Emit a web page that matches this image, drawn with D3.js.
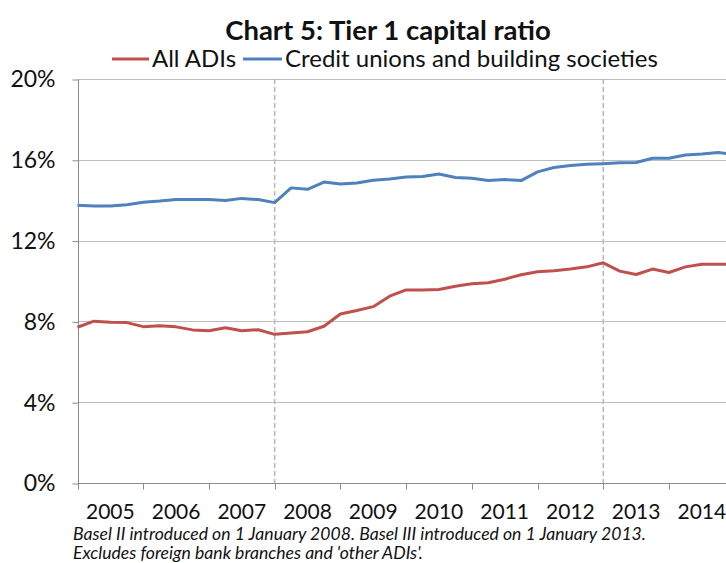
<!DOCTYPE html>
<html>
<head>
<meta charset="utf-8">
<script src="https://cdn.jsdelivr.net/npm/d3@7"></script>
<style>
  html, body { margin: 0; padding: 0; background: #fff; }
  svg { display: block; }
  text { font-family: Lato, "Open Sans", sans-serif; fill: #111; }
</style>
</head>
<body>
<svg id="chart" width="726" height="563"></svg>
<script>
// Tier 1 capital ratio, quarterly, per cent (first point = March 2005 quarter)
const quarters = d3.range(41);
const allADIs = [
  7.71, 8.01, 7.96, 7.94, 7.74, 7.79, 7.73, 7.58, 7.54, 7.69, 7.54, 7.59,
  7.36, 7.43, 7.49, 7.76, 8.37, 8.54, 8.73, 9.25, 9.56, 9.56, 9.58, 9.74,
  9.86, 9.91, 10.09, 10.31, 10.46, 10.51, 10.59, 10.70, 10.90, 10.49, 10.32, 10.59,
  10.42, 10.70, 10.83, 10.83, 10.83
];
const creditUnions = [
  13.75, 13.71, 13.71, 13.78, 13.90, 13.96, 14.04, 14.04, 14.04, 13.99, 14.09, 14.03,
  13.88, 14.61, 14.54, 14.90, 14.80, 14.85, 14.99, 15.05, 15.15, 15.17, 15.30, 15.12,
  15.09, 14.97, 15.02, 14.97, 15.40, 15.62, 15.72, 15.78, 15.81, 15.85, 15.87, 16.08,
  16.08, 16.24, 16.29, 16.36, 16.26
];
const years = [2005, 2006, 2007, 2008, 2009, 2010, 2011, 2012, 2013, 2014];
const yTicks = [0, 4, 8, 12, 16, 20];
const regimeChanges = [12, 32]; // quarter index of 1 Jan 2008 and 1 Jan 2013
const seriesNames = ["All ADIs", "Credit unions and building societies"];
const seriesColors = ["#c0504d", "#4f81bd"];
const notes = [
  "Basel II introduced on 1 January 2008. Basel III introduced on 1 January 2013.",
  "Excludes foreign bank branches and 'other ADIs'."
];

const svg = d3.select("#chart");
const plotLeft = 78, plotTop = 79, plotBottom = 483;
const step = 16.43;

const x = d3.scaleLinear().domain([0, 40]).range([plotLeft - 0.5, plotLeft - 0.5 + 40 * step]);
const y = d3.scaleLinear().domain([0, 20]).range([plotBottom, plotTop]);
const plotRight = x(41);

// horizontal gridlines
svg.append("g")
  .selectAll("line")
  .data(yTicks.filter(d => d > 0))
  .join("line")
  .attr("x1", plotLeft).attr("x2", plotRight)
  .attr("y1", d => Math.round(y(d)) + 0.5).attr("y2", d => Math.round(y(d)) + 0.5)
  .attr("stroke", "#bdbdbd").attr("stroke-width", 1);

// dashed lines marking Basel II / III
svg.append("g")
  .selectAll("line")
  .data(regimeChanges)
  .join("line")
  .attr("x1", d => x(d)).attr("x2", d => x(d))
  .attr("y1", plotTop).attr("y2", plotBottom)
  .attr("stroke", "#b8b8b8").attr("stroke-width", 1.5)
  .attr("stroke-dasharray", "5,3");

// y axis
const yAxis = d3.axisLeft(y).tickValues(yTicks).tickSize(6).tickPadding(17)
  .tickFormat(d => d + "%");
const gy = svg.append("g").attr("transform", `translate(${plotLeft + 0.5},0.5)`).call(yAxis);
gy.select(".domain").attr("stroke", "#8c8c8c").attr("d", `M0,${plotTop}V${plotBottom}`);
gy.selectAll(".tick line").attr("stroke", "#8c8c8c");
gy.selectAll(".tick text")
  .attr("font-size", 23).attr("font-family", "Lato, sans-serif").attr("fill", "#111");

// x axis: ticks at year boundaries, labels centred within each year
const gx = svg.append("g").attr("transform", `translate(0,${plotBottom + 0.5})`);
gx.append("line").attr("x1", plotLeft).attr("x2", plotRight).attr("stroke", "#8c8c8c");
gx.selectAll(".yt")
  .data(years.map((d, i) => i * 4))
  .join("line").attr("class", "yt")
  .attr("x1", d => Math.round(x(d)) + 0.5).attr("x2", d => Math.round(x(d)) + 0.5)
  .attr("y1", 0).attr("y2", 6).attr("stroke", "#8c8c8c");
gx.selectAll(".yl")
  .data(years)
  .join("text").attr("class", "yl")
  .attr("x", (d, i) => x(i * 4 + 2)).attr("y", 35.5)
  .attr("text-anchor", "middle").attr("font-size", 21)
  .text(d => d);

// series lines
const line = d3.line().x((d, i) => x(quarters[i])).y(d => y(d));
[allADIs, creditUnions].forEach((s, k) => {
  svg.append("path").datum(s)
    .attr("d", line)
    .attr("fill", "none")
    .attr("stroke", seriesColors[k])
    .attr("stroke-width", 3)
    .attr("stroke-linejoin", "round");
});

// title
svg.append("text")
  .attr("x", 388).attr("y", 40)
  .attr("text-anchor", "middle")
  .attr("font-size", 27.5).attr("font-weight", 700)
  .text("Chart 5: Tier 1 capital ratio");

// legend
const legend = svg.append("g");
const legendItems = [{ x: 112, w: 37 }, { x: 243, w: 39 }];
legendItems.forEach((it, k) => {
  legend.append("line")
    .attr("x1", it.x).attr("x2", it.x + it.w)
    .attr("y1", 59).attr("y2", 59)
    .attr("stroke", seriesColors[k]).attr("stroke-width", 3);
  legend.append("text")
    .attr("x", it.x + it.w + 3).attr("y", 67)
    .attr("font-size", 24)
    .text(seriesNames[k]);
});

// footnotes
svg.append("g").selectAll("text")
  .data(notes)
  .join("text")
  .attr("x", 73).attr("y", (d, i) => 539.5 + i * 19.5)
  .attr("font-size", 17.6).attr("font-style", "italic")
  .text(d => d);
</script>
</body>
</html>
